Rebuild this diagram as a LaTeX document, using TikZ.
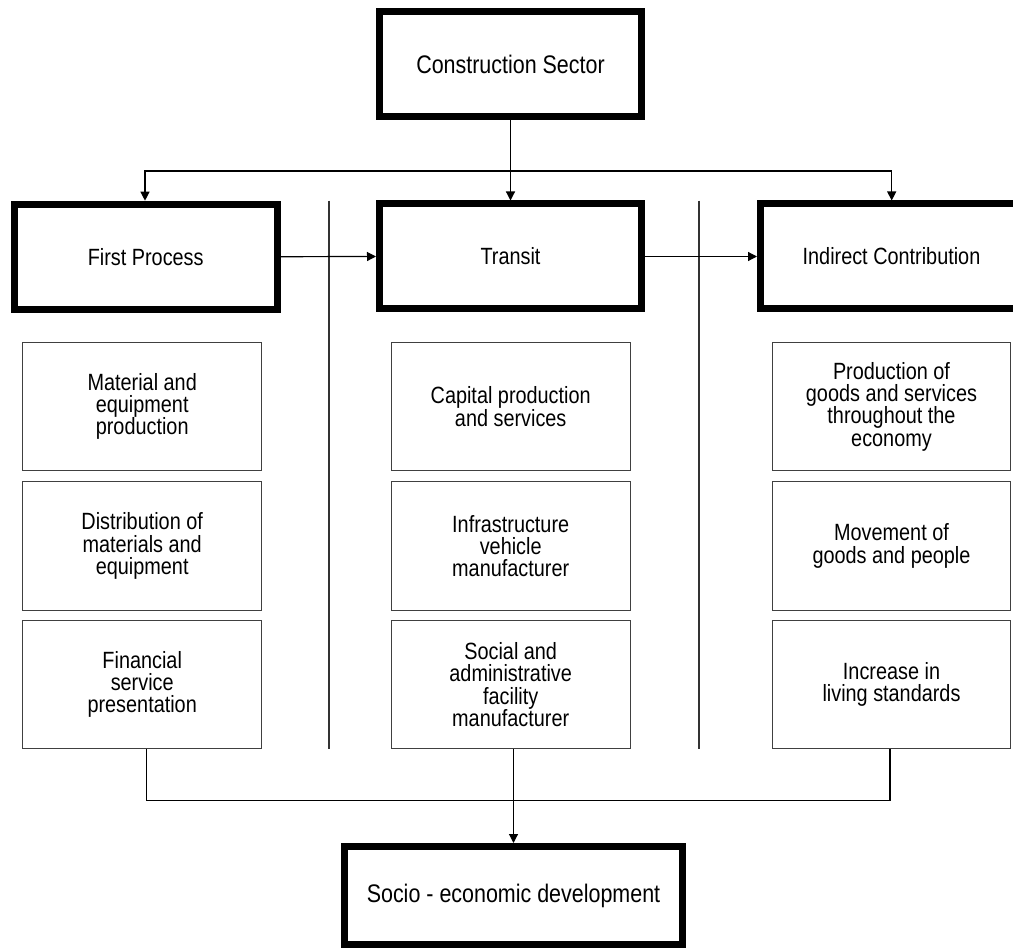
\documentclass[tikz,border=0pt]{standalone}
\usepackage{fontspec}
\setmainfont[FakeStretch=0.845]{Liberation Sans}
\usetikzlibrary{arrows.meta}
\begin{document}
\begin{tikzpicture}[x=1pt,y=-1pt,
  thickbox/.style={draw=black,line width=7pt,fill=white,inner sep=0pt,align=center,
    font=\fontsize{23.5}{26}\selectfont},
  bigtext/.style={font=\fontsize{25.4}{28}\selectfont},
  smallbox/.style={draw=black!75,line width=1pt,inner sep=0pt,align=center,
    font=\fontsize{23.5}{22.3}\selectfont},
  conn/.style={draw=black,line width=1.2pt},
  arr/.style={conn,-{Triangle[length=9pt,width=9pt]}},
  sep/.style={draw=black!80,line width=1.2pt}]
\useasboundingbox (0,0) rectangle (1013,949);
\fill[white] (0,0) rectangle (1013,949);
% main boxes
\node[thickbox,bigtext,minimum width=262pt,minimum height=105pt] (cs) at (510.5,64) {Construction Sector};
\node[thickbox,minimum width=263pt,minimum height=105pt] (fp) at (145.7,256.7) {First Process};
\node[thickbox,minimum width=262pt,minimum height=105pt] (tr) at (510.5,256.5) {Transit};
\node[thickbox,minimum width=262pt,minimum height=105pt] (ic) at (891.5,256.5) {Indirect Contribution};
\node[thickbox,bigtext,minimum width=338pt,minimum height=98pt] (sed) at (513.5,895.5) {Socio - economic development};
% small boxes
\node[smallbox,minimum width=239pt,minimum height=127.6pt] (l1) at (142.2,406.5) {Material and\\equipment\\production};
\node[smallbox,minimum width=239pt,minimum height=128pt] (l2) at (142.2,546) {Distribution of\\materials and\\equipment};
\node[smallbox,minimum width=239pt,minimum height=128.7pt] (l3) at (142.2,684.6) {Financial\\service\\presentation};
\node[smallbox,minimum width=238.7pt,minimum height=127.6pt] (m1) at (510.7,406.5) {Capital production\\and services};
\node[smallbox,minimum width=238.7pt,minimum height=128pt] (m2) at (510.7,546) {Infrastructure\\vehicle\\manufacturer};
\node[smallbox,minimum width=238.7pt,minimum height=128.7pt] (m3) at (510.7,684.6) {Social and\\administrative\\facility\\manufacturer};
\node[smallbox,minimum width=238.4pt,minimum height=127.6pt] (r1) at (891.5,406.5) {Production of\\goods and services\\throughout the\\economy};
\node[smallbox,minimum width=238.4pt,minimum height=128pt] (r2) at (891.5,546) {Movement of\\goods and people};
\node[smallbox,minimum width=238.4pt,minimum height=128.7pt] (r3) at (891.5,684.6) {Increase in\\living standards};
% separators
\coordinate (s1t) at (329,200.7);
\coordinate (s1b) at (329,749);
\coordinate (s2t) at (699,200.7);
\coordinate (s2b) at (699,749);
\draw[sep] (s1t) -- (s1b);
\draw[sep] (s2t) -- (s2b);
% top connectors
\coordinate (hub) at (510.5,171);
\draw[arr] (cs.south) -- (tr.north);
\draw[arr] (hub) -| ([xshift=-0.7pt]fp.north);
\draw[arr] (hub) -| ([xshift=0.2pt]ic.north);
% horizontal arrows
\draw[arr] (fp.east) -- (tr.west);
\draw[arr] (tr.east) -- (ic.west);
% bottom connectors
\coordinate (bl) at (146.7,800.7);
\coordinate (br) at (890,800.7);
\draw[conn] (l3.south -| bl) -- (bl) -- (br) -- (r3.south -| br);
\draw[arr] (m3.south -| sed.north) -- (sed.north);
\end{tikzpicture}
\end{document}
